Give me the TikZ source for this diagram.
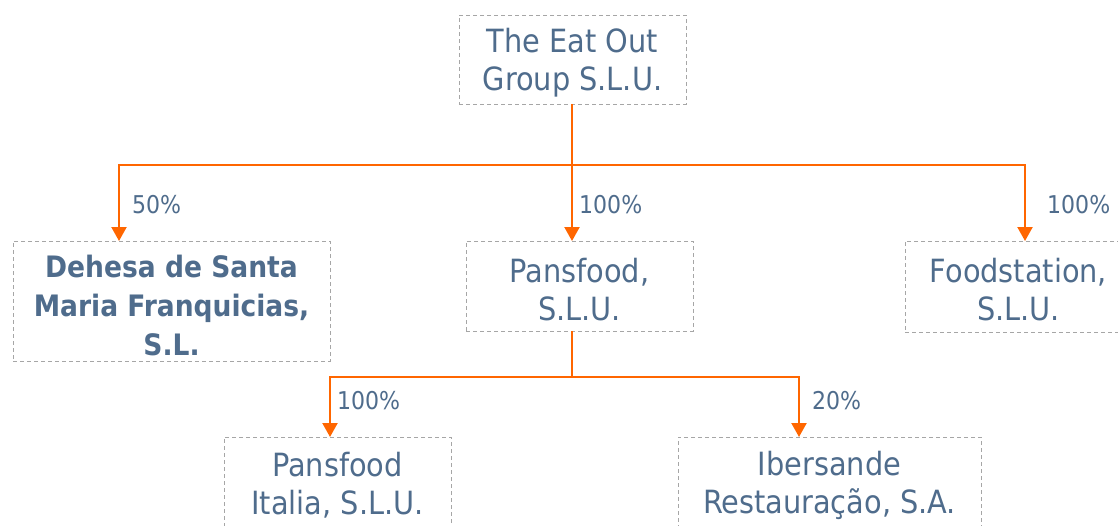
\documentclass[tikz,border=0pt]{standalone}
\usepackage{fontspec}
\setmainfont{DejaVu Sans Condensed}
\usetikzlibrary{arrows.meta}
\definecolor{txt}{RGB}{79,108,140}
\definecolor{org}{RGB}{255,102,0}
\definecolor{brd}{RGB}{166,166,166}
\newcommand\firststrut{\rule{0pt}{31pt}}
\begin{document}
\begin{tikzpicture}[x=1pt,y=-1pt,
  box/.style={draw=brd, line width=1pt, dash pattern=on 4pt off 3pt, inner sep=0pt,
    align=center, text=txt, font=\fontsize{32}{38}\selectfont},
  pct/.style={anchor=west, inner sep=0pt, text=txt, font=\fontsize{24.5}{28}\selectfont},
  link/.style={draw=org, line width=2.2pt},
  arr/.style={link, -{Triangle[width=15pt,length=14pt]}}]
\useasboundingbox (0,0) rectangle (1118,525);
\node[box, minimum width=227pt, minimum height=89pt] (top) at (572.5,59.5) {\firststrut The Eat Out\\Group S.L.U.};
\node[box, minimum width=317pt, minimum height=120pt, font=\bfseries\fontsize{29.5}{39}\selectfont] (dehesa) at (171.5,301) {\firststrut Dehesa de Santa\\Maria Franquicias,\\S.L.};
\node[box, minimum width=227pt, minimum height=90pt] (pans) at (579.5,286) {\firststrut Pansfood,\\S.L.U.};
\node[box, minimum width=227pt, minimum height=91pt] (food) at (1018.5,286.5) {\firststrut Foodstation,\\S.L.U.};
\node[box, minimum width=227pt, minimum height=90pt] (italia) at (337.5,482) {\firststrut Pansfood\\Italia, S.L.U.};
\node[box, minimum width=303pt, minimum height=90pt] (iber) at (829.5,482) {\firststrut Ibersande\\Restauração, S.A.};
\coordinate (j1) at (572,165);
\coordinate (dIn) at (119,241);
\coordinate (pIn) at (572,241);
\coordinate (fIn) at (1025,241);
\coordinate (pOut) at (572,331);
\coordinate (j2) at (572,377);
\coordinate (iIn) at (330,437);
\coordinate (bIn) at (799,437);
\draw[link] (572,104) -- (j1);
\draw[arr] (j1) -| (dIn);
\draw[arr] (j1) -- (pIn);
\draw[arr] (j1) -| (fIn);
\draw[link] (pOut) -- (j2);
\draw[arr] (j2) -| (iIn);
\draw[arr] (j2) -| (bIn);
\node[pct] (l1) at (132,205) {50\%};
\node[pct] (l2) at (579,205) {100\%};
\node[pct] (l3) at (1047,205) {100\%};
\node[pct] (l4) at (337,401) {100\%};
\node[pct] (l5) at (812,401) {20\%};
\end{tikzpicture}
\end{document}
